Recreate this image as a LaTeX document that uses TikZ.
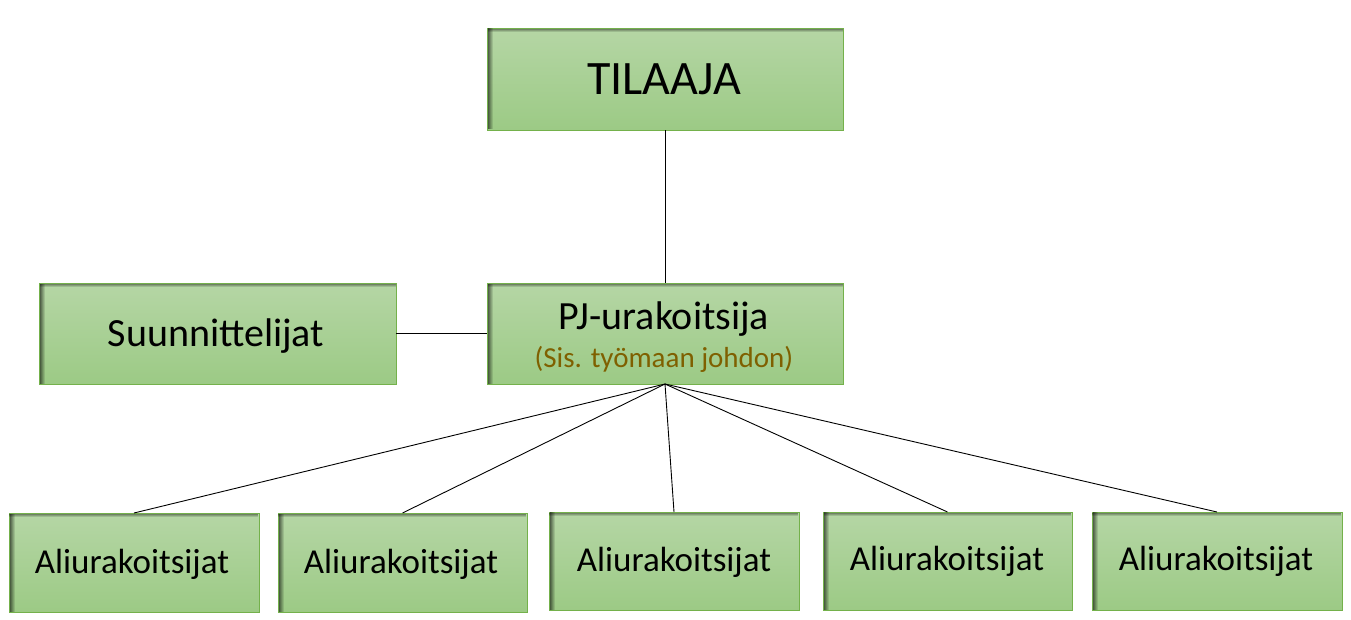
\documentclass[tikz,border=0pt]{standalone}
\usepackage{fontspec}
\setmainfont{Carlito}
\usetikzlibrary{fadings}
\definecolor{gtop}{HTML}{B5D6A5}
\definecolor{gbot}{HTML}{9CCA85}
\definecolor{gedge}{HTML}{74B14B}
\definecolor{subbrown}{HTML}{7F6000}
\tikzset{
  gbox/.style={draw=gedge, line width=1pt, top color=gtop, bottom color=gbot,
    inner sep=0pt, outer sep=0pt, rectangle},
  conn/.style={draw=black, line width=0.9pt},
  lbl/.style={anchor=base, inner sep=0pt, text=black},
}
\newcommand{\boxshadow}[1]{%
  \fill[black, opacity=0.6, path fading=east] ([shift={(0.5pt,-0.5pt)}]#1.north west) rectangle ([shift={(6pt,0.5pt)}]#1.south west);
  \fill[black, opacity=0.45, path fading=south] ([shift={(0.5pt,-0.5pt)}]#1.north west) rectangle ([shift={(-0.5pt,-4pt)}]#1.north east);
}
\begin{document}
\begin{tikzpicture}[x=1pt,y=-1pt]
\useasboundingbox (0,0) rectangle (1351,619);
% boxes
\node[gbox, minimum width=356pt, minimum height=102pt] (til) at (665,79) {};
\node[gbox, minimum width=356pt, minimum height=101pt] (pj) at (665,333.5) {};
\node[gbox, minimum width=357pt, minimum height=101pt] (suu) at (217.5,333.5) {};
\node[gbox, minimum width=250pt, minimum height=99pt] (a1) at (134,562.5) {};
\node[gbox, minimum width=249pt, minimum height=99pt] (a2) at (402.5,562.5) {};
\node[gbox, minimum width=250pt, minimum height=98pt] (a3) at (674,561) {};
\node[gbox, minimum width=249pt, minimum height=98pt] (a4) at (947.5,561) {};
\node[gbox, minimum width=250pt, minimum height=98pt] (a5) at (1217,561) {};
\boxshadow{til}
\boxshadow{pj}
\boxshadow{suu}
\boxshadow{a1}
\boxshadow{a2}
\boxshadow{a3}
\boxshadow{a4}
\boxshadow{a5}
% connectors
\draw[conn] (til.south) -- (pj.north);
\draw[conn] (suu.east) -- (pj.west);
\foreach \b in {a1,a2,a3,a4,a5} \draw[conn] (pj.south) -- (\b.north);
% texts
\node[lbl, font=\fontsize{48}{52}\selectfont] (tilt) at (664,94) {TILAAJA};
\node[lbl, font=\fontsize{40}{44}\selectfont] (pjt) at (664,329) {PJ-urakoitsija};
\node[lbl, font=\fontsize{29}{32}\selectfont, text=subbrown] (pjs) at (664,367) {(Sis. työmaan johdon)};
\node[lbl, font=\fontsize{40}{44}\selectfont] (suut) at (216,346) {Suunnittelijat};
\node[lbl, font=\fontsize{35}{38}\selectfont] (a1t) at (132,573) {Aliurakoitsijat};
\node[lbl, font=\fontsize{35}{38}\selectfont] (a2t) at (401,573) {Aliurakoitsijat};
\node[lbl, font=\fontsize{35}{38}\selectfont] (a3t) at (674,571) {Aliurakoitsijat};
\node[lbl, font=\fontsize{35}{38}\selectfont] (a4t) at (947,570) {Aliurakoitsijat};
\node[lbl, font=\fontsize{35}{38}\selectfont] (a5t) at (1216,570) {Aliurakoitsijat};
\end{tikzpicture}
\end{document}
